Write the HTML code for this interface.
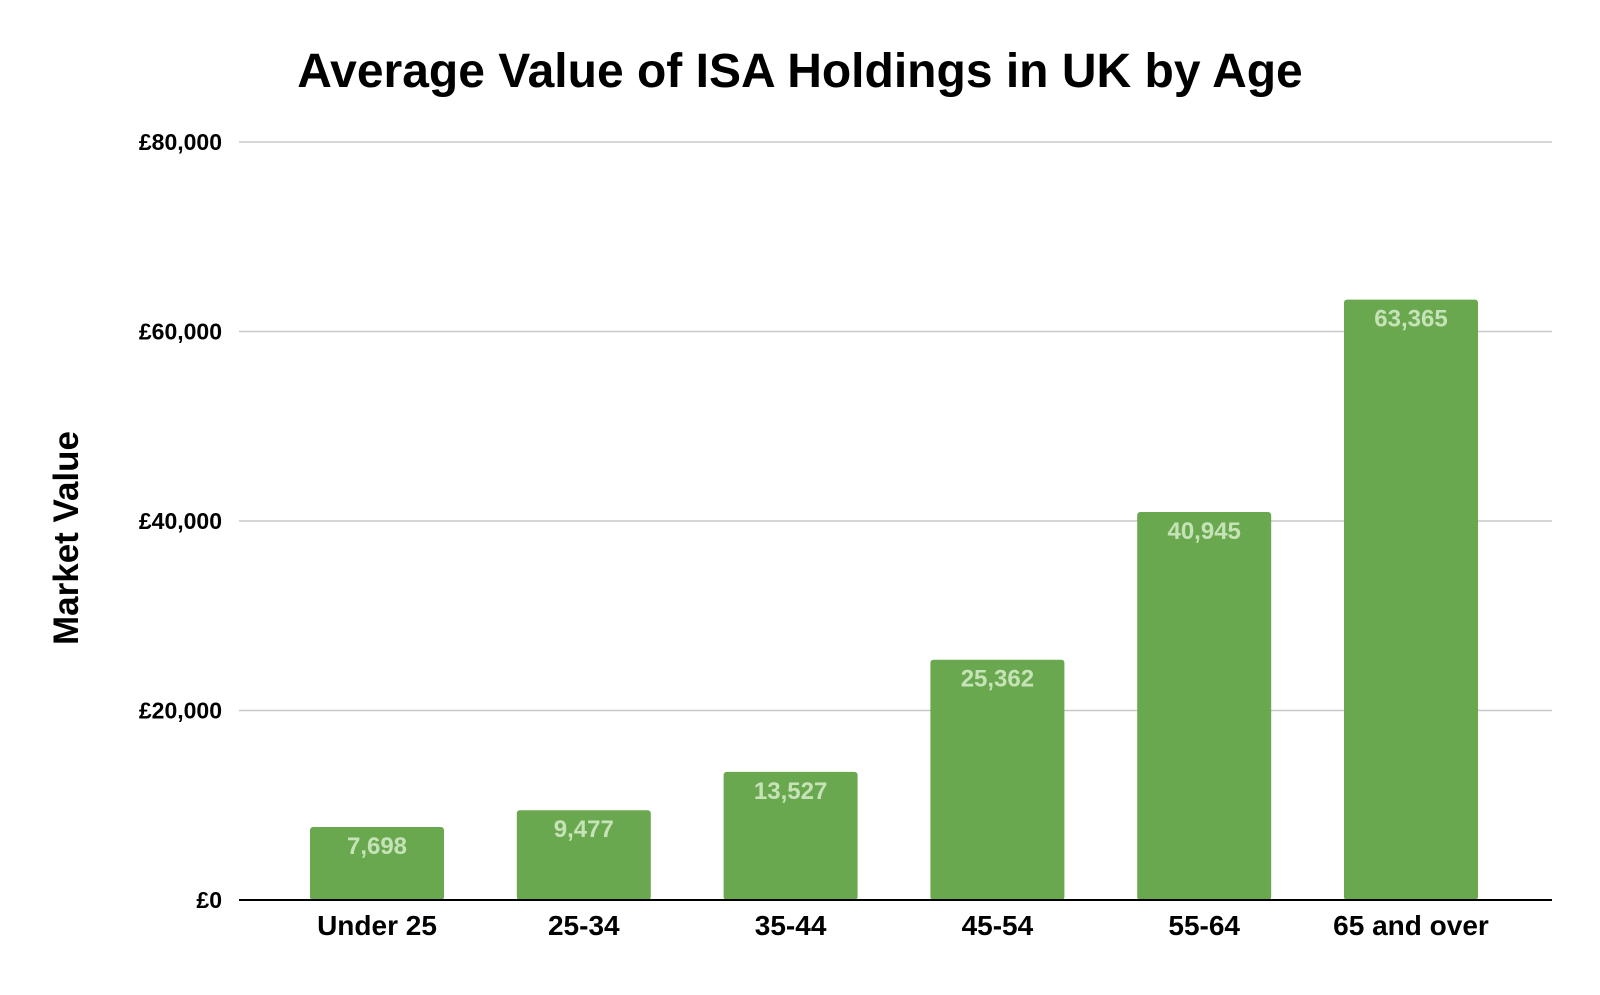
<!DOCTYPE html>
<html><head><meta charset="utf-8"><style>
body{margin:0;background:#fff;font-family:"Liberation Sans",Arial,sans-serif}
</style></head><body>
<svg width="1600" height="990" id="c">
<text x="800" y="87" text-anchor="middle" font-size="48" font-weight="bold" fill="#000">Average Value of ISA Holdings in UK by Age</text>
<text transform="translate(78,538) rotate(-90)" text-anchor="middle" font-size="35" font-weight="bold" fill="#000">Market Value</text>
<g id="grid"></g><g id="bars"></g>
</svg>
<script>
const categories=["Under 25","25-34","35-44","45-54","55-64","65 and over"];
const values=[7698,9477,13527,25362,40945,63365];
const valueLabels=["7,698","9,477","13,527","25,362","40,945","63,365"];
const ticks=[0,20000,40000,60000,80000];
const tickLabels=["£0","£20,000","£40,000","£60,000","£80,000"];
const NS="http://www.w3.org/2000/svg";
const L=239,R=1552,Y0=900,Y1=142,MAX=80000;
const y=v=>Y0-(v/MAX)*(Y0-Y1);
const x=i=>377+i*206.8;
function mk(t,a,p){const e=document.createElementNS(NS,t);for(const k in a)e.setAttribute(k,a[k]);p.appendChild(e);return e;}
const g=document.getElementById('grid'),b=document.getElementById('bars');
ticks.forEach((t,i)=>{
 if(i>0){const ln=mk('line',{x1:L,x2:R,y1:y(t),y2:y(t),stroke:'#c8c8c8','stroke-width':1.5},g);
 
 }
 const tx=mk('text',{x:222,y:y(t)+8,'text-anchor':'end','font-size':23,'font-weight':'bold'},g);
 tx.textContent=tickLabels[i];
 
 
});
values.forEach((v,i)=>{
 const r=mk('rect',{x:x(i)-67,y:y(v),width:134,height:Y0-y(v),rx:3,fill:'#6aa84f'},b);
 
 
 const t=mk('text',{x:x(i),y:y(v)+27,'text-anchor':'middle','font-size':24,'font-weight':'bold',fill:'#c6e3b8'},b);
 t.textContent=valueLabels[i];
 
 
 const c=mk('text',{x:x(i),y:935,'text-anchor':'middle','font-size':28,'font-weight':'bold'},b);
 c.textContent=categories[i];
 
 
});
const ax=mk('line',{x1:L,x2:R,y1:Y0,y2:Y0,stroke:'#000','stroke-width':2},b);


</script>
</body></html>
